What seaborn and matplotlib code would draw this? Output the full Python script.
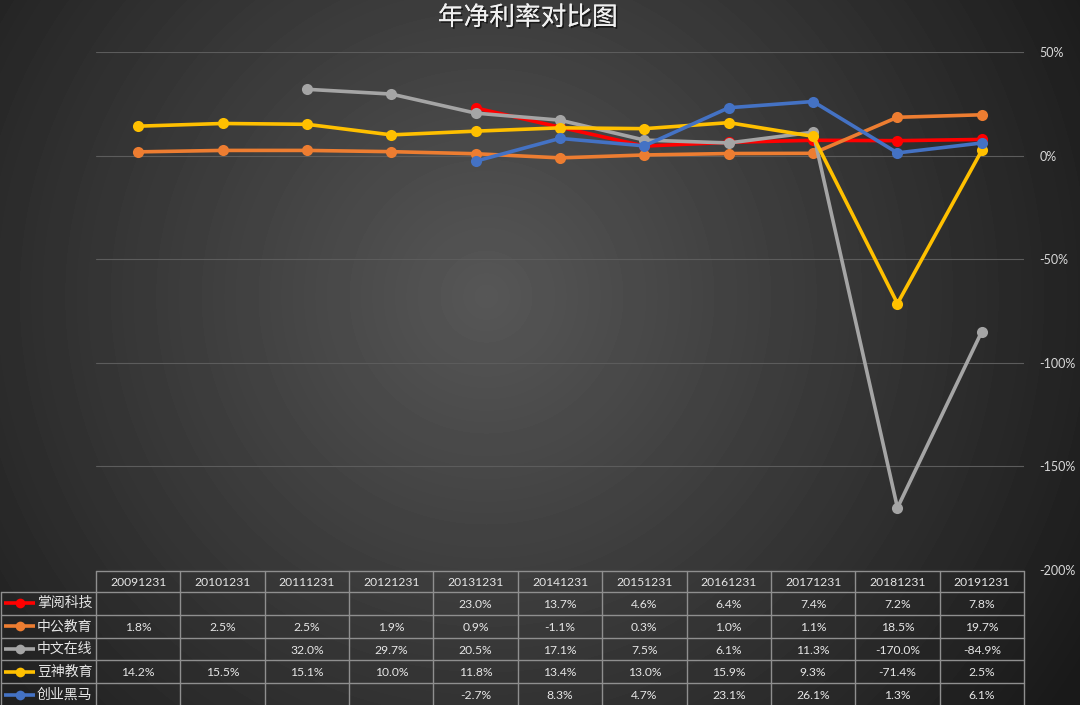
import numpy as np
import pandas as pd
import matplotlib.pyplot as plt
import matplotlib.patheffects as pe
from matplotlib.ticker import FuncFormatter
import seaborn as sns

dates = ["20091231", "20101231", "20111231", "20121231", "20131231", "20141231",
         "20151231", "20161231", "20171231", "20181231", "20191231"]
names = ["掌阅科技", "中公教育", "中文在线", "豆神教育", "创业黑马"]
zhangyue = [np.nan, np.nan, np.nan, np.nan, 23.0, 13.7, 4.6, 6.4, 7.4, 7.2, 7.8]
zhonggong = [1.8, 2.5, 2.5, 1.9, 0.9, -1.1, 0.3, 1.0, 1.1, 18.5, 19.7]
zhongwen = [np.nan, np.nan, 32.0, 29.7, 20.5, 17.1, 7.5, 6.1, 11.3, -170.0, -84.9]
doushen = [14.2, 15.5, 15.1, 10.0, 11.8, 13.4, 13.0, 15.9, 9.3, -71.4, 2.5]
heima = [np.nan, np.nan, np.nan, np.nan, -2.7, 8.3, 4.7, 23.1, 26.1, 1.3, 6.1]
series = [zhangyue, zhonggong, zhongwen, doushen, heima]
colors = ["#FF0000", "#ED7D31", "#A5A5A5", "#FFC000", "#4472C4"]
yticks = [0.5, 0.0, -0.5, -1.0, -1.5, -2.0]

rows = []
for name, vals in zip(names, series):
    for i, v in enumerate(vals):
        rows.append({"idx": i, "date": dates[i], "name": name, "value": v / 100})
df = pd.DataFrame(rows).dropna()

sns.set_theme(style="dark")
plt.rcParams["font.family"] = ["Noto Sans CJK SC", "DejaVu Sans"]

W, H = 1080, 705
fig = plt.figure(figsize=(W / 100, H / 100), dpi=100)

# radial gradient background
bg = fig.add_axes([0, 0, 1, 1], zorder=0)
yy, xx = np.mgrid[0:H, 0:W]
r = np.sqrt(((xx - 0.45 * W) / (0.62 * W)) ** 2 + ((yy - 0.42 * H) / (0.62 * W)) ** 2)
shade = np.clip(0.34 - 0.23 * r, 0.10, 0.34)
bg.imshow(shade, cmap="gray", vmin=0, vmax=1, aspect="auto", extent=[0, W, H, 0])
bg.set_axis_off()

ax = fig.add_axes([96 / W, 1 - 570 / H, 928 / W, 518 / H], zorder=2)
ax.set_facecolor("none")
for hl in yticks:
    ax.axhline(hl, color="#5c5c5c", lw=0.8, zorder=0)
sns.lineplot(data=df, x="idx", y="value", hue="name", hue_order=names,
             palette=colors, marker="o", markersize=8, markeredgewidth=0,
             linewidth=2.6, sort=False, legend=False, ax=ax)
ax.set_xlim(-0.5, 10.5)
ax.set_ylim(-2.0, 0.5)
ax.set_xticks([])
ax.set_yticks(yticks)
ax.yaxis.tick_right()
ax.yaxis.set_major_formatter(FuncFormatter(lambda v, p: f"{v * 100:.0f}%"))
ax.tick_params(axis="y", length=0, pad=11, labelsize=9, labelcolor="#d9d9d9")
for lab in ax.get_yticklabels():
    lab.set_family(["Lato", "DejaVu Sans"])
ax.set_xlabel("")
ax.set_ylabel("")
ax.grid(False)
for s in ax.spines.values():
    s.set_visible(False)

fig.text(528 / W, 1 - 18 / H, "年净利率对比图", ha="center", va="center", fontsize=18.5,
         color="#f0f0f0", fontweight="light",
         path_effects=[pe.withSimplePatchShadow(offset=(1.2, -1.2), shadow_rgbFace="black", alpha=0.6),
                       pe.Normal()])

# data table
tb = fig.add_axes([0, 0, 1, 1], zorder=3)
tb.set_xlim(0, W)
tb.set_ylim(H, 0)
tb.set_axis_off()
tb.patch.set_alpha(0)
lc = "#8f8f8f"
x0, x1 = 96, 1024
cw = (x1 - x0) / len(dates)
top, hdr = 571, 592
rh = 22.8
bottom = hdr + rh * len(names)
tb.plot([x0, x1], [top, top], color=lc, lw=1)
for i in range(len(dates) + 1):
    tb.plot([x0 + i * cw] * 2, [top, bottom], color=lc, lw=1)
for j in range(len(names) + 1):
    tb.plot([1, x1], [hdr + j * rh] * 2, color=lc, lw=1)
tb.plot([1, 1], [hdr, bottom], color=lc, lw=1)
for i, d in enumerate(dates):
    tb.text(x0 + (i + 0.5) * cw, (top + hdr) / 2 + 1, d, ha="center", va="center",
            fontsize=8.7, color="#e6e6e6", family=["Lato", "DejaVu Sans"])
for j, (name, vals, c) in enumerate(zip(names, series, colors)):
    yc = hdr + (j + 0.5) * rh
    tb.plot([4, 35], [yc, yc], color=c, lw=2.6, solid_capstyle="butt")
    tb.plot([19.5], [yc], marker="o", color=c, markersize=7, markeredgewidth=0)
    tb.text(37, yc, name, ha="left", va="center", fontsize=10, color="#e6e6e6")
    for i, v in enumerate(vals):
        if not np.isnan(v):
            tb.text(x0 + (i + 0.5) * cw, yc + 1, f"{v:.1f}%", ha="center", va="center",
                    fontsize=8.7, color="#e6e6e6", family=["Lato", "DejaVu Sans"])

fig.savefig("out.png", dpi=100)
plt.close()
